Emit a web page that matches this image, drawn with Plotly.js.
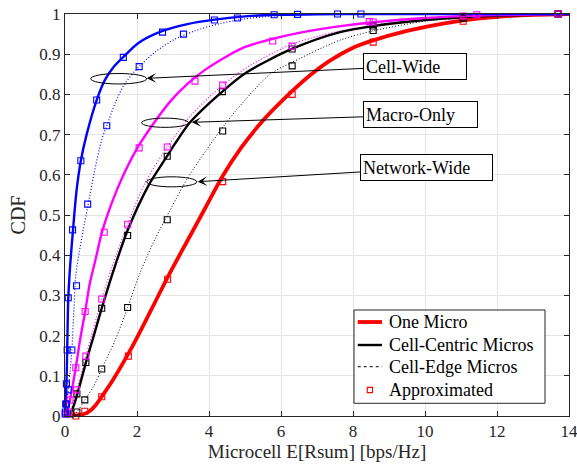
<!DOCTYPE html>
<html>
<head>
<meta charset="utf-8">
<script src="https://cdn.plot.ly/plotly-3.0.1.min.js"></script>
<style>html,body{margin:0;padding:0;background:#fff;}#chart{width:577px;height:470px;}</style>
</head>
<body>
<div id="chart"></div>
<script>
// ---- Data ----
// Cell-Wide (blue)
const blueSolidX = [0, 0.02, 0.04, 0.06, 0.09, 0.14, 0.22, 0.32, 0.44, 0.6, 0.88, 1.11, 1.35, 1.62, 2.04, 2.71, 3.4, 4.15, 5.0, 5.81, 7.0, 8.5, 10, 14];
const blueSolidY = [0, 0.03, 0.08, 0.16, 0.29, 0.37, 0.46, 0.56, 0.635, 0.70, 0.786, 0.836, 0.868, 0.893, 0.928, 0.958, 0.975, 0.986, 0.994, 0.998, 0.999, 1, 1, 1];
const blueDotX = [0, 0.04, 0.09, 0.14, 0.19, 0.24, 0.3, 0.4, 0.5, 0.63, 0.8, 1.02, 1.16, 1.4, 1.67, 2.06, 2.5, 3.0, 3.6, 4.3, 5.0, 6.0, 7.0, 8.5, 14];
const blueDotY = [0, 0.025, 0.065, 0.11, 0.164, 0.25, 0.35, 0.41, 0.46, 0.52, 0.6, 0.687, 0.722, 0.78, 0.828, 0.869, 0.905, 0.935, 0.958, 0.976, 0.988, 0.996, 0.999, 1, 1];
const blueSolidApproxX = [0.005, 0.02, 0.04, 0.06, 0.09, 0.21, 0.44, 0.88, 1.62, 2.71, 4.15, 5.81, 7.57];
const blueSolidApproxY = [0.005, 0.03, 0.08, 0.164, 0.294, 0.463, 0.635, 0.786, 0.892, 0.955, 0.985, 0.998, 1.0];
const blueDotApproxX = [0.01, 0.04, 0.09, 0.19, 0.32, 0.63, 1.16, 2.06, 3.29, 4.79, 6.46, 8.22];
const blueDotApproxY = [0.01, 0.03, 0.065, 0.164, 0.324, 0.527, 0.722, 0.869, 0.95, 0.99, 0.999, 1.0];

// Macro-Only (magenta)
const magSolidX = [0, 0.06, 0.14, 0.22, 0.3, 0.42, 0.56, 0.69, 0.85, 1.02, 1.3, 1.6, 2.0, 2.4, 2.92, 3.4, 3.89, 4.5, 5.0, 5.77, 6.5, 7.5, 8.5, 10, 11.5, 14];
const magSolidY = [0, 0.01, 0.04, 0.08, 0.12, 0.19, 0.26, 0.33, 0.39, 0.455, 0.53, 0.595, 0.665, 0.72, 0.782, 0.826, 0.861, 0.895, 0.918, 0.938, 0.953, 0.968, 0.979, 0.99, 0.996, 1];
const magDotX = [0, 0.1, 0.2, 0.32, 0.45, 0.58, 0.8, 1.02, 1.3, 1.74, 2.22, 2.84, 3.5, 4.38, 5.2, 6.31, 7.5, 8.56, 10, 11.06, 12.5, 14];
const magDotY = [0, 0.005, 0.025, 0.065, 0.105, 0.149, 0.22, 0.291, 0.37, 0.477, 0.579, 0.669, 0.748, 0.823, 0.875, 0.925, 0.955, 0.972, 0.988, 0.994, 0.998, 1];
const magSolidApproxX = [0.03, 0.14, 0.3, 0.56, 1.09, 2.06, 3.61, 5.77, 8.45, 11.44, 13.7];
const magSolidApproxY = [0.005, 0.04, 0.12, 0.26, 0.457, 0.667, 0.833, 0.933, 0.981, 0.998, 1.0];
const magDotApproxX = [0.1, 0.32, 0.58, 1.02, 1.74, 2.84, 4.38, 6.31, 8.56, 11.06];
const magDotApproxY = [0.01, 0.065, 0.149, 0.291, 0.477, 0.669, 0.823, 0.92, 0.98, 0.995];

// Network-Wide (black)
const blkSolidX = [0, 0.1, 0.23, 0.36, 0.6, 0.8, 1.02, 1.34, 1.74, 2.31, 2.84, 3.06, 3.47, 4.37, 5.05, 6.3, 7.64, 8.56, 10, 11.06, 12.5, 14];
const blkSolidY = [0, 0.0, 0.023, 0.06, 0.139, 0.2, 0.268, 0.36, 0.462, 0.572, 0.647, 0.678, 0.73, 0.807, 0.855, 0.913, 0.955, 0.97, 0.985, 0.992, 0.997, 1];
const blkDotX = [0, 0.2, 0.33, 0.55, 0.8, 1.02, 1.4, 1.74, 2.08, 2.5, 2.92, 3.38, 3.93, 4.38, 4.77, 5.69, 6.31, 7.64, 8.56, 10, 11.06, 12.5, 14];
const blkDotY = [0, 0.002, 0.01, 0.04, 0.075, 0.117, 0.19, 0.27, 0.355, 0.44, 0.512, 0.588, 0.662, 0.718, 0.762, 0.85, 0.88, 0.935, 0.958, 0.982, 0.99, 0.997, 1];
const blkSolidApproxX = [0.15, 0.33, 0.58, 1.02, 1.74, 2.84, 4.37, 6.31, 8.56, 11.06, 13.7];
const blkSolidApproxY = [0.005, 0.055, 0.133, 0.268, 0.449, 0.646, 0.807, 0.913, 0.97, 0.99, 1.0];
const blkDotApproxX = [0.33, 0.55, 1.02, 1.74, 2.84, 4.38, 6.31, 8.56, 11.06, 13.7];
const blkDotApproxY = [0.01, 0.04, 0.117, 0.27, 0.488, 0.709, 0.871, 0.959, 0.99, 1.0];

// One Micro (red)
const redX = [0, 0.25, 0.45, 0.65, 0.85, 1.02, 1.3, 1.76, 2.0, 2.4, 2.85, 3.4, 3.9, 4.38, 4.9, 5.5, 6.25, 6.8, 7.36, 8.0, 8.47, 9.5, 10.5, 11.06, 12, 13, 14];
const redY = [0, 0, 0.003, 0.01, 0.027, 0.048, 0.085, 0.155, 0.195, 0.265, 0.345, 0.436, 0.518, 0.597, 0.668, 0.735, 0.803, 0.847, 0.884, 0.916, 0.932, 0.958, 0.976, 0.984, 0.993, 0.998, 1];
const redApproxX = [0.3, 0.55, 1.02, 1.76, 2.85, 4.38, 6.31, 8.56, 11.06, 13.7];
const redApproxY = [0.0, 0.012, 0.048, 0.149, 0.34, 0.583, 0.80, 0.93, 0.982, 1.0];

const xTicks = [0, 2, 4, 6, 8, 10, 12, 14];
const yTicks = [0, 0.1, 0.2, 0.3, 0.4, 0.5, 0.6, 0.7, 0.8, 0.9, 1];
const legendNames = ['One Micro', 'Cell-Centric Micros', 'Cell-Edge Micros', 'Approximated'];
const groupLabels = ['Cell-Wide', 'Macro-Only', 'Network-Wide'];

// ---- Styling ----
const FONT = 'Liberation Serif';
const AX = '#262626';
const BLUE = '#0000ff', MAG = '#ff00ff', BLK = '#000000', RED = '#ff0000';
const DOT = '1px,2px';

function line(x, y, color, width, dash, name) {
  return {x: x, y: y, type: 'scatter', mode: 'lines', name: name, showlegend: false, hoverinfo: 'skip',
          line: {color: color, width: width, dash: dash || 'solid', shape: 'spline', smoothing: 0.8}};
}
function pts(x, y, color) {
  return {x: x, y: y, type: 'scatter', mode: 'markers', name: legendNames[3], showlegend: false, hoverinfo: 'skip',
          cliponaxis: false,
          marker: {symbol: 'square-open', size: 6, color: color, line: {width: 1.1, color: color}}};
}

const traces = [
  line(blkDotX, blkDotY, BLK, 1, DOT, groupLabels[2] + ' ' + legendNames[2]),
  line(magDotX, magDotY, MAG, 1.2, DOT, groupLabels[1] + ' ' + legendNames[2]),
  line(blueDotX, blueDotY, BLUE, 1.2, DOT, groupLabels[0] + ' ' + legendNames[2]),
  line(redX, redY, RED, 3.8, 'solid', legendNames[0]),
  line(blkSolidX, blkSolidY, BLK, 2.4, 'solid', groupLabels[2] + ' ' + legendNames[1]),
  line(magSolidX, magSolidY, MAG, 2.4, 'solid', groupLabels[1] + ' ' + legendNames[1]),
  line(blueSolidX, blueSolidY, BLUE, 2.4, 'solid', groupLabels[0] + ' ' + legendNames[1]),
  pts(redApproxX, redApproxY, RED),
  pts(blkSolidApproxX, blkSolidApproxY, BLK),
  pts(blkDotApproxX, blkDotApproxY, BLK),
  pts(magSolidApproxX, magSolidApproxY, MAG),
  pts(magDotApproxX, magDotApproxY, MAG),
  pts(blueSolidApproxX, blueSolidApproxY, BLUE),
  pts(blueDotApproxX, blueDotApproxY, BLUE)
];

function callout(label, tipX, tipY, boxX, boxY, w) {
  return {text: label, x: tipX, y: tipY, xref: 'x', yref: 'y', ax: boxX, ay: boxY, axref: 'x', ayref: 'y',
          showarrow: true, arrowhead: 3, arrowsize: 1.6, arrowwidth: 1, arrowcolor: '#000',
          font: {family: FONT, size: 18, color: '#000'}, bgcolor: '#fff',
          bordercolor: '#000', borderwidth: 1, borderpad: 2, width: w, height: 21, align: 'left'};
}

// ---- Legend (drawn in paper coordinates, MATLAB-style) ----
const LEG = {x0: 0.5734, x1: 0.9524, y0: 0.0316, y1: 0.2637,
             rows: [0.2338, 0.1766, 0.1226, 0.0647], sx0: 0.5808, sx1: 0.6290, tx: 0.6389};
const legStyles = [
  {kind: 'line', color: RED, width: 3.8, dash: 'solid'},
  {kind: 'line', color: BLK, width: 2.4, dash: 'solid'},
  {kind: 'line', color: BLK, width: 1, dash: 'dot'},
  {kind: 'square', color: RED}
];
const legShapes = [{type: 'rect', xref: 'paper', yref: 'paper', x0: LEG.x0, x1: LEG.x1, y0: LEG.y0, y1: LEG.y1,
                    fillcolor: '#fff', line: {color: AX, width: 1}, layer: 'above'}];
const legAnns = [];
legendNames.forEach(function (nm, i) {
  const st = legStyles[i], yy = LEG.rows[i];
  if (st.kind === 'line') {
    legShapes.push({type: 'line', xref: 'paper', yref: 'paper', x0: LEG.sx0, x1: LEG.sx1, y0: yy, y1: yy,
                    line: {color: st.color, width: st.width, dash: st.dash}, layer: 'above'});
  } else {
    const cx = (LEG.sx0 + LEG.sx1) / 2, hw = 2.6 / 504, hh = 2.6 / 402;
    legShapes.push({type: 'rect', xref: 'paper', yref: 'paper', x0: cx - hw, x1: cx + hw, y0: yy - hh, y1: yy + hh,
                    line: {color: st.color, width: 1.1}, layer: 'above'});
  }
  legAnns.push({text: nm, xref: 'paper', yref: 'paper', x: LEG.tx, y: yy, xanchor: 'left', yanchor: 'middle',
                showarrow: false, font: {family: FONT, size: 18, color: '#000'}});
});

const layout = {
  width: 577, height: 470,
  margin: {l: 65, r: 8, t: 14, b: 54},
  paper_bgcolor: '#fff', plot_bgcolor: '#fff',
  font: {family: FONT, color: AX},
  showlegend: false,
  xaxis: {range: [0, 14], tickvals: xTicks, ticks: 'inside', ticklen: 5, tickcolor: AX,
          showline: true, linecolor: AX, linewidth: 1, mirror: 'ticks', showgrid: true,
          gridcolor: '#e5e5e5', zeroline: false, ticklabeloverflow: 'allow',
          tickfont: {family: FONT, size: 17, color: AX},
          title: {text: 'Microcell E[Rsum] [bps/Hz]', font: {family: FONT, size: 19, color: AX}, standoff: 2}},
  yaxis: {range: [0, 1], tickvals: yTicks, ticks: 'inside', ticklen: 5, tickcolor: AX,
          showline: true, linecolor: AX, linewidth: 1, mirror: 'ticks', showgrid: true,
          gridcolor: '#e5e5e5', zeroline: false, ticklabeloverflow: 'allow',
          tickfont: {family: FONT, size: 17, color: AX},
          title: {text: 'CDF', font: {family: FONT, size: 20, color: AX}, standoff: 8}},
  shapes: [
    {type: 'circle', xref: 'x', yref: 'y', x0: 0.714, x1: 2.27, y0: 0.826, y1: 0.852, line: {color: '#000', width: 1}},
    {type: 'circle', xref: 'x', yref: 'y', x0: 2.13, x1: 3.43, y0: 0.718, y1: 0.741, line: {color: '#000', width: 1}},
    {type: 'circle', xref: 'x', yref: 'y', x0: 2.27, x1: 3.66, y0: 0.570, y1: 0.595, line: {color: '#000', width: 1}}
  ].concat(legShapes),
  annotations: [
    callout(groupLabels[0], 2.269, 0.840, 9.722, 0.8706, 98),
    callout(groupLabels[1], 3.519, 0.7306, 9.875, 0.7488, 109),
    callout(groupLabels[2], 3.686, 0.5828, 10.047, 0.617, 127)
  ].concat(legAnns)
};

Plotly.newPlot('chart', traces, layout, {displayModeBar: false, staticPlot: true});
</script>
</body>
</html>
